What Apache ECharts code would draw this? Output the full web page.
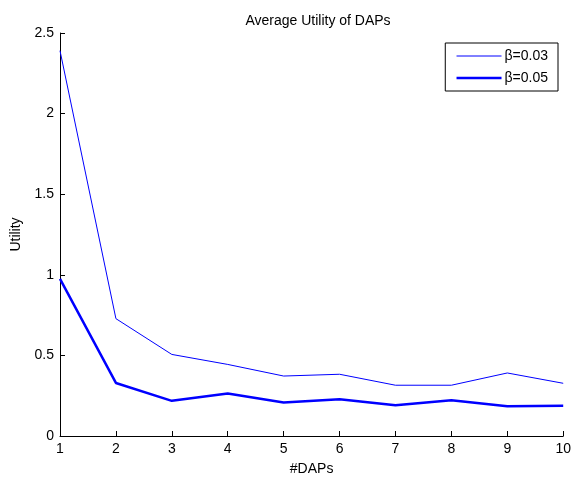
<!DOCTYPE html>
<html>
<head>
<meta charset="utf-8">
<script src="https://cdn.jsdelivr.net/npm/echarts@6/dist/echarts.min.js"></script>
<style>
html,body{margin:0;padding:0;background:#fff;}
#c{width:574px;height:481px;}
</style>
</head>
<body>
<div id="c"></div>
<script>
const categories = [1, 2, 3, 4, 5, 6, 7, 8, 9, 10];
const beta003 = [2.39, 0.728, 0.506, 0.444, 0.372, 0.383, 0.315, 0.315, 0.391, 0.327];
const beta005 = [0.975, 0.329, 0.218, 0.263, 0.208, 0.228, 0.191, 0.222, 0.185, 0.187];
const yTicks = [0, 0.5, 1, 1.5, 2, 2.5];
const seriesNames = ['\u03b2=0.03', '\u03b2=0.05'];

const font = 'Liberation Sans, Arial, Helvetica, sans-serif';
const chart = echarts.init(document.getElementById('c'), null, {renderer: 'canvas'});
chart.setOption({
  animation: false,
  backgroundColor: '#fff',
  title: {
    text: 'Average Utility of DAPs',
    left: 313, top: 9, textAlign: 'center',
    textStyle: {fontFamily: font, fontSize: 14, fontWeight: 'normal', color: '#000'}
  },
  legend: {
    orient: 'vertical',
    right: 16, top: 43,
    padding: [6, 10, 6, 10],
    itemGap: 8,
    itemWidth: 45, itemHeight: 14,
    borderColor: '#000', borderWidth: 1,
    backgroundColor: '#fff',
    itemStyle: {opacity: 0},
    textStyle: {fontFamily: font, fontSize: 14, color: '#000', padding: [0, 0, 0, -2]},
    data: [
      {name: seriesNames[0], lineStyle: {width: 1, color: '#0000ff'}},
      {name: seriesNames[1], lineStyle: {width: 2.5, color: '#0000ff'}}
    ]
  },
  grid: {left: 60, right: 8, top: 33, bottom: 40, containLabel: false},
  xAxis: {
    type: 'value',
    min: 1, max: 10, interval: 1,
    name: '#DAPs', nameLocation: 'middle', nameGap: 26,
    nameTextStyle: {fontFamily: font, fontSize: 14, color: '#000'},
    axisLine: {show: true, lineStyle: {color: '#000', width: 1}},
    axisTick: {show: true, inside: true, length: 5, lineStyle: {color: '#000'}},
    axisLabel: {fontFamily: font, fontSize: 14, color: '#000', margin: 6},
    splitLine: {show: false}
  },
  yAxis: {
    type: 'value',
    min: 0, max: 2.5, interval: 0.5,
    name: 'Utility', nameLocation: 'middle', nameGap: 34, nameRotate: 90,
    nameTextStyle: {fontFamily: font, fontSize: 14, color: '#000'},
    axisLine: {show: true, lineStyle: {color: '#000', width: 1}},
    axisTick: {show: true, inside: true, length: 5, lineStyle: {color: '#000'}},
    axisLabel: {fontFamily: font, fontSize: 14, color: '#000', margin: 6,
      formatter: v => (yTicks.indexOf(v) >= 0 ? String(v) : '')},
    splitLine: {show: false}
  },
  series: [
    {
      name: seriesNames[0], type: 'line', symbol: 'none',
      data: categories.map((c, i) => [c, beta003[i]]),
      lineStyle: {color: '#0000ff', width: 1},
      itemStyle: {color: '#0000ff'}
    },
    {
      name: seriesNames[1], type: 'line', symbol: 'none',
      data: categories.map((c, i) => [c, beta005[i]]),
      lineStyle: {color: '#0000ff', width: 2.5},
      itemStyle: {color: '#0000ff'}
    }
  ]
});
</script>
</body>
</html>
